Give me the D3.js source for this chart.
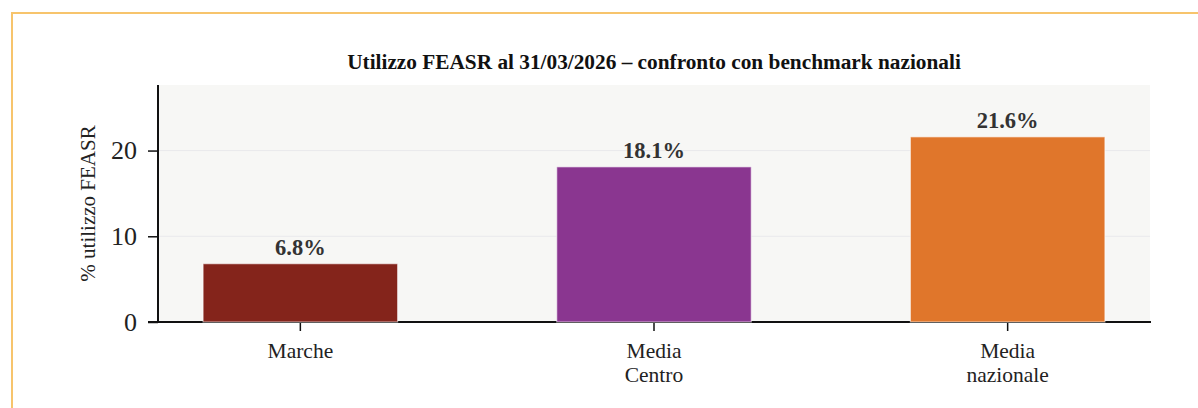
<!DOCTYPE html>
<html>
<head>
<meta charset="utf-8">
<script src="https://cdn.jsdelivr.net/npm/d3@7/dist/d3.min.js"></script>
<style>
  html, body { margin: 0; padding: 0; background: #fff; }
  svg { display: block; font-family: "Liberation Serif", "Times New Roman", serif; }
</style>
</head>
<body>
<svg id="chart" width="1198" height="408"></svg>
<script>
const categories = [["Marche"], ["Media", "Centro"], ["Media", "nazionale"]];
const values     = [6.8, 18.1, 21.6];
const barColors  = ["#84241b", "#8a3690", "#e0762b"];
const yTicks     = [0, 10, 20];
const titleText  = "Utilizzo FEASR al 31/03/2026 \u2013 confronto con benchmark nazionali";
const yLabelText = "% utilizzo FEASR";

drawChart();

function drawChart() {
  let svg      = d3.select("#chart"),
    left       = 158,
    right      = 1150,
    top        = 85,
    bottom     = 322,
    keys       = categories.map(c => c.join(" ")),
    x          = d3.scaleBand().domain(keys).range([left, right]).paddingInner(0.45).paddingOuter(0.1275),
    y          = d3.scaleLinear().domain([0, d3.max(values) * 1.28]).range([bottom, top]);

  // outer frame
  svg.append("rect")
    .attr("x", 12).attr("y", 13)
    .attr("width", 1200).attr("height", 420)
    .attr("fill", "none")
    .attr("stroke", "#f7c46c")
    .attr("stroke-width", 2);

  // plot background
  svg.append("rect")
    .attr("x", left).attr("y", top)
    .attr("width", right - left).attr("height", bottom - top)
    .attr("fill", "#f7f7f5");

  // grid
  svg.append("g")
    .selectAll("line")
    .data(yTicks.filter(t => t > 0))
    .enter().append("line")
    .attr("x1", left).attr("x2", right)
    .attr("y1", d => y(d)).attr("y2", d => y(d))
    .attr("stroke", "#e9e9ec")
    .attr("stroke-width", 1);

  // axes
  let yAxis = svg.append("g")
    .attr("transform", "translate(" + left + ",0)")
    .call(d3.axisLeft(y).tickValues(yTicks).tickSize(10).tickPadding(11));
  yAxis.select(".domain").attr("d", "M0," + top + "V" + bottom).attr("stroke", "#111").attr("stroke-width", 2);
  yAxis.selectAll(".tick line").attr("stroke", "#111").attr("stroke-width", 1.5);
  yAxis.selectAll(".tick text")
    .attr("font-family", "Liberation Serif, serif")
    .attr("font-size", 26)
    .attr("fill", "#222");

  let xAxis = svg.append("g")
    .attr("transform", "translate(0," + bottom + ")")
    .call(d3.axisBottom(x).tickSize(9).tickFormat(""));
  xAxis.select(".domain").attr("d", "M" + (left - 10) + ",0H" + (right + 1)).attr("stroke", "#111").attr("stroke-width", 2);
  xAxis.selectAll(".tick line").attr("stroke", "#111").attr("stroke-width", 1.5);

  // multi-line category labels
  xAxis.selectAll(".tick").each(function (d, i) {
    let t = d3.select(this).select("text")
      .attr("y", 0)
      .attr("font-family", "Liberation Serif, serif")
      .attr("font-size", 21.5)
      .attr("fill", "#222");
    categories[i].forEach((line, j) => {
      t.append("tspan")
        .attr("x", 0)
        .attr("y", 36 + j * 23.5)
        .attr("dy", 0)
        .text(line);
    });
  });

  // bars
  svg.append("g")
    .selectAll("rect")
    .data(values)
    .enter().append("rect")
    .attr("x", (d, i) => x(keys[i]))
    .attr("y", d => y(d))
    .attr("width", x.bandwidth())
    .attr("height", d => y(0) - y(d))
    .attr("fill", (d, i) => barColors[i])
    .attr("stroke", "#ffffff")
    .attr("stroke-opacity", 0.55)
    .attr("stroke-width", 1.2);

  // value labels
  svg.append("g")
    .selectAll("text")
    .data(values)
    .enter().append("text")
    .attr("x", (d, i) => x(keys[i]) + x.bandwidth() / 2)
    .attr("y", d => y(d) - 9)
    .attr("text-anchor", "middle")
    .attr("font-size", 22.5)
    .attr("font-weight", "bold")
    .attr("fill", "#333")
    .text(d => d.toFixed(1) + "%");

  // title
  svg.append("text")
    .attr("x", (left + right) / 2)
    .attr("y", 69)
    .attr("text-anchor", "middle")
    .attr("font-size", 21.3)
    .attr("font-weight", "bold")
    .attr("fill", "#111")
    .text(titleText);

  // y label
  svg.append("text")
    .attr("transform", "translate(95," + ((top + bottom) / 2) + ") rotate(-90)")
    .attr("text-anchor", "middle")
    .attr("font-size", 21)
    .attr("fill", "#222")
    .text(yLabelText);
}
</script>
</body>
</html>
